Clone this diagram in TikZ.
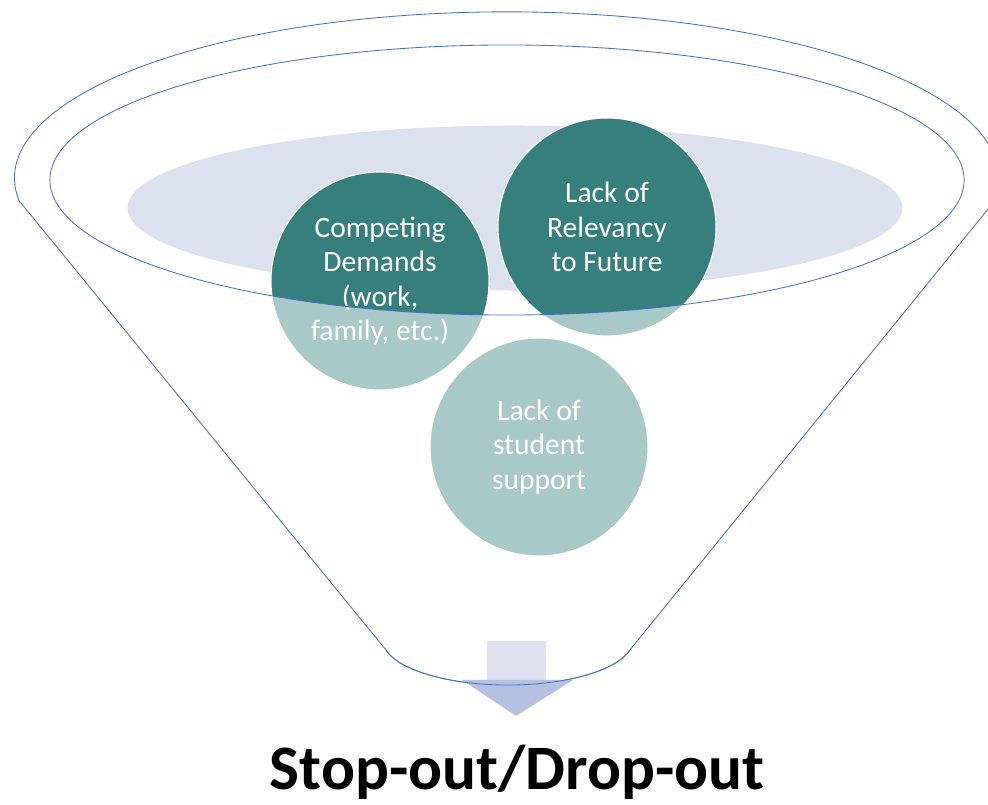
\documentclass[tikz,border=0pt]{standalone}
\usepackage{fontspec}
\setmainfont{Carlito}
\usepackage{tikz}
\usetikzlibrary{positioning}
\definecolor{funnelblue}{HTML}{4472C4}
\definecolor{darkteal}{HTML}{377F7C}
\definecolor{lightteal}{HTML}{A9C8C8}
\definecolor{paleblue}{HTML}{DCE1F0}
\definecolor{arrowbox}{HTML}{DFE3F1}
\definecolor{arrowtip}{HTML}{B4C1E1}
\tikzset
{
    funnelline/.style = {draw=funnelblue, line width=0.6pt},
    bubble/.style     = {circle, draw=white, line width=0.8pt, minimum size=5.45cm, align=center, text=white, font=\fontsize{21}{24.5}\selectfont},
    caption/.style    = {font=\fontsize{45}{50}\selectfont\bfseries, anchor=base}
}

\begin{document}
\begin{tikzpicture}[x=0.025cm, y=0.025cm]
    \clip (0,0) rectangle (988,804);
    \fill[white] (0,0) rectangle (988,804);
    % positions of the three bubbles
    \coordinate (dem) at (380,523);
    \coordinate (rel) at (607,577);
    \coordinate (sup) at (539,357);
    % outline of the funnel
    \draw[funnelline] (21,601) -- (386,154)
        arc[start angle=192.8, end angle=347.2, x radius=3.125cm, y radius=1.125cm]
        -- (993,601)
        arc[start angle=-8.7, end angle=188.7, x radius=12.3cm, y radius=4.15cm] -- cycle;
    \fill[paleblue] (515,596) ellipse[x radius=9.6875cm, y radius=2.0625cm];
    % arrow at the spout
    \node [fill=arrowbox, inner sep=0pt, minimum width=1.475cm, minimum height=1.05cm, anchor=south] (spout) at (516.5,121) {};
    \fill[arrowtip] (462,124) -- (573,124) -- (516,88) -- cycle;
    \foreach \c in {dem,rel,sup}
        \fill[lightteal] (\c) circle[radius=2.725cm];
    \begin{scope}
        \clip (507,624) ellipse[x radius=11.425cm, y radius=3.375cm];
        \foreach \c in {dem,rel}
            \fill[darkteal] (\c) circle[radius=2.725cm];
    \end{scope}
    \node [bubble] (demands) at (dem) {Competing\\Demands\\(work,\\family, etc.)};
    \node [bubble] (relevancy) at (rel) {Lack of\\Relevancy\\to Future};
    \node [bubble] (support) at (sup) {Lack of\\student\\support};
    \draw[funnelline] (507,624) ellipse[x radius=11.425cm, y radius=3.375cm];
    \draw[funnelline] (386,154)
        arc[start angle=192.8, end angle=347.2, x radius=3.125cm, y radius=1.125cm];
    \node [caption] (dropout) at (517,15) {Stop-out/Drop-out};
\end{tikzpicture}
\end{document}
